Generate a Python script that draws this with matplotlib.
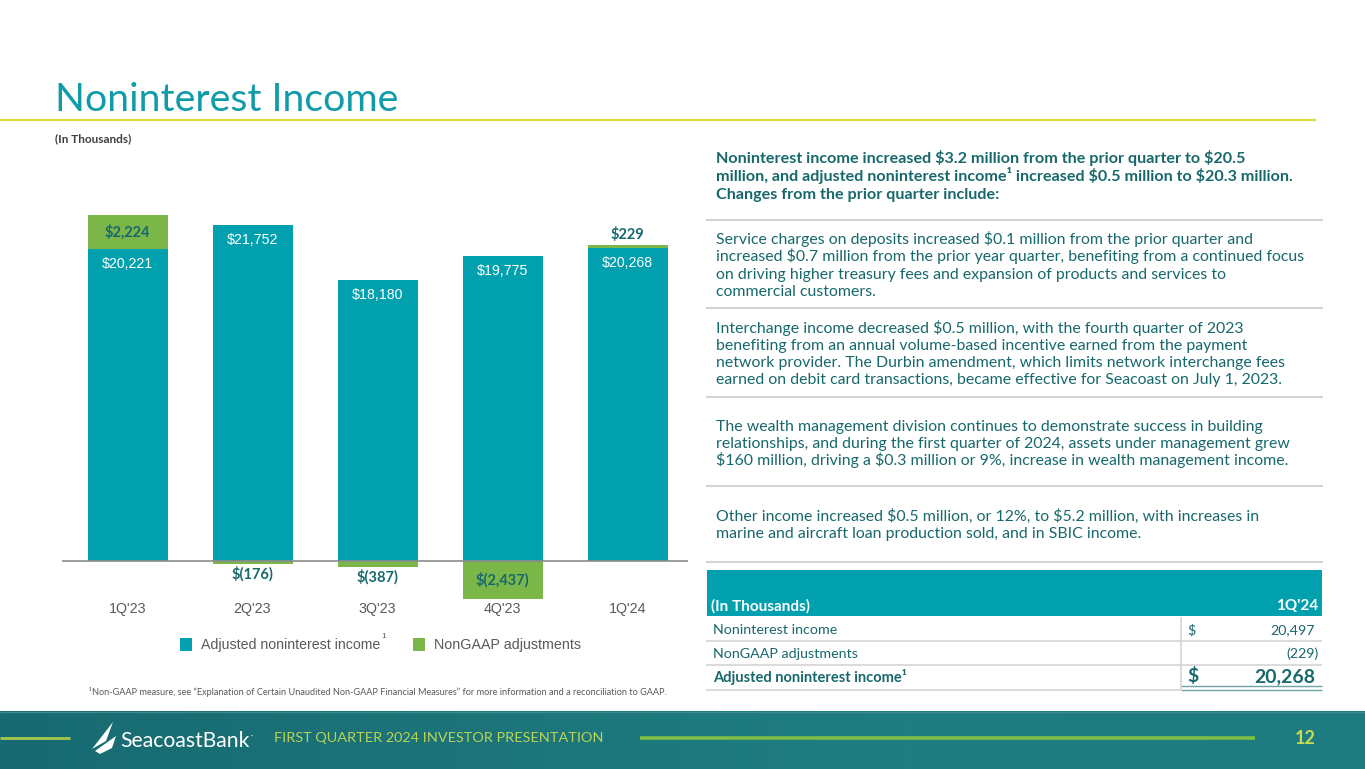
import matplotlib
matplotlib.use('Agg')
import matplotlib.pyplot as plt
import matplotlib.transforms as mtransforms
from matplotlib.patches import Rectangle, Polygon
from matplotlib.lines import Line2D
from matplotlib.colors import LinearSegmentedColormap
import numpy as np

plt.rcParams['text.parse_math'] = False

W, H = 1365, 769
DPI = 100

# ---------------- data ----------------
quarters = ["1Q'23", "2Q'23", "3Q'23", "4Q'23", "1Q'24"]
adjusted_income = [20221, 21752, 18180, 19775, 20268]
nongaap_adjustments = [2224, -176, -387, -2437, 229]

table_labels = ["Noninterest income", "NonGAAP adjustments", "Adjusted noninterest income¹"]
table_dollar = ["$", "", "$"]
table_values = ["20,497", "(229)", "20,268"]

heading_lines = [
    "Noninterest income increased $3.2 million from the prior quarter to $20.5",
    "million, and adjusted noninterest income¹ increased $0.5 million to $20.3 million.",
    "Changes from the prior quarter include:",
]
body_blocks = [
    ["Service charges on deposits increased $0.1 million from the prior quarter and",
     "increased $0.7 million from the prior year quarter, benefiting from a continued focus",
     "on driving higher treasury fees and expansion of products and services to",
     "commercial customers."],
    ["Interchange income decreased $0.5 million, with the fourth quarter of 2023",
     "benefiting from an annual volume-based incentive earned from the payment",
     "network provider. The Durbin amendment, which limits network interchange fees",
     "earned on debit card transactions, became effective for Seacoast on July 1, 2023."],
    ["The wealth management division continues to demonstrate success in building",
     "relationships, and during the first quarter of 2024, assets under management grew",
     "$160 million, driving a $0.3 million or 9%, increase in wealth management income."],
    ["Other income increased $0.5 million, or 12%, to $5.2 million, with increases in",
     "marine and aircraft loan production sold, and in SBIC income."],
]

# ---------------- style ----------------
TEAL = '#00A0AF'
GREEN = '#7AB648'
TITLE = '#0F9BA8'
DARK = '#17686C'
GRAY = '#595959'
SEP = '#D4D4D4'
BODYFONT = ['Lato', 'DejaVu Sans']
ARIAL = ['Liberation Sans', 'DejaVu Sans']

fig = plt.figure(figsize=(W / DPI, H / DPI), dpi=DPI)
fig.patch.set_facecolor('white')
renderer = fig.canvas.get_renderer()


def fx(x):
    return x / W


def fy(y):
    return 1 - y / H


def txt(x, y, s, **kw):
    kw.setdefault('family', BODYFONT)
    return fig.text(fx(x), fy(y), s, **kw)


def fit(t, width):
    fs = t.get_fontsize()
    w = t.get_window_extent(renderer).width
    t.set_fontsize(fs * width / w)
    return t.get_fontsize()


def fit_size(s, width, **kw):
    t = txt(0, 0, s, fontsize=10, **kw)
    fs = fit(t, width)
    t.remove()
    return fs


def hline(x0, x1, y, color, lw):
    fig.add_artist(Line2D([fx(x0), fx(x1)], [fy(y), fy(y)], color=color, lw=lw,
                          transform=fig.transFigure, solid_capstyle='butt'))


def vline(x, y0, y1, color, lw):
    fig.add_artist(Line2D([fx(x), fx(x)], [fy(y0), fy(y1)], color=color, lw=lw,
                          transform=fig.transFigure, solid_capstyle='butt'))


def rect(x0, y0, x1, y1, color, z=1):
    fig.add_artist(Rectangle((fx(x0), fy(y1)), fx(x1) - fx(x0), fy(y0) - fy(y1),
                             transform=fig.transFigure, facecolor=color,
                             edgecolor='none', zorder=z))


# ---------------- title ----------------
t = txt(55, 111, "Noninterest Income", fontsize=30, color=TITLE, va='baseline')
fit(t, 343)
hline(0, 1316, 120, '#D7DF3A', 1.6)
t = txt(55, 142, "(In Thousands)", fontsize=8, color='#3F3F3F', weight='bold', va='baseline')
fit(t, 77)

# ---------------- chart ----------------
base_px, top_px, bot_px = 561.0, 200.0, 600.0
scale = (561 - 249.0) / adjusted_income[0]
ax = fig.add_axes([fx(62), fy(bot_px), fx(688) - fx(62), fy(top_px) - fy(bot_px)])
ax.set_xlim(-0.524, 4.484)
ax.set_ylim(-(bot_px - base_px) / scale, (base_px - top_px) / scale)
ax.axis('off')

x = np.arange(len(quarters))
bw = 0.64
ax.bar(x, adjusted_income, width=bw, color=TEAL, zorder=2)
adj_bottom = [a if g > 0 else 0 for a, g in zip(adjusted_income, nongaap_adjustments)]
ax.bar(x, nongaap_adjustments, bottom=adj_bottom, width=bw, color=GREEN, zorder=2)
ax.axhline(0, color='#8C8C8C', lw=1.2, zorder=3)

for i, (a, g) in enumerate(zip(adjusted_income, nongaap_adjustments)):
    ax.annotate(f"${a:,}", (i, a), xytext=(0, -15), textcoords='offset pixels',
                ha='center', va='center', color='white', fontsize=10.2, family=ARIAL, zorder=4)
    lab = f"${g:,}" if g > 0 else f"$({-g:,})"
    if abs(g) > 1000:
        yc = adj_bottom[i] + g / 2
        off = 0
    elif g > 0:
        yc = a + g
        off = 10
    else:
        yc = g
        off = -10
    ax.annotate(lab, (i, yc), xytext=(0, off), textcoords='offset pixels',
                ha='center', va='center', color=DARK, fontsize=10.5, weight='bold',
                family=BODYFONT, zorder=4)

blend = mtransforms.blended_transform_factory(ax.transData, fig.transFigure)
for i, q in enumerate(quarters):
    ax.text(i, fy(608.5), q, transform=blend, ha='center', va='center', color=GRAY,
            fontsize=10.3, family=ARIAL, clip_on=False)

# legend
rect(180, 638, 192, 651, TEAL)
t = txt(201, 645, "Adjusted noninterest income", fontsize=10.3, color=GRAY, va='center', family=ARIAL)
fit(t, 179)
txt(381, 636, "1", fontsize=6, color=GRAY, va='center', family=ARIAL)
rect(413, 638, 425, 651, GREEN)
t = txt(434, 645, "NonGAAP adjustments", fontsize=10.3, color=GRAY, va='center', family=ARIAL)
fit(t, 146)

t = txt(89, 692, "¹Non-GAAP measure, see \u201cExplanation of Certain Unaudited Non-GAAP Financial Measures\u201d for more information and a reconciliation to GAAP.",
        fontsize=6, color=GRAY, va='center')
fit(t, 581)

# ---------------- right text ----------------
fs_b = fit_size(heading_lines[1], 577, weight='bold')
for s, yb in zip(heading_lines, [163, 181, 198.5]):
    txt(716, yb, s, fontsize=fs_b, weight='bold', color=DARK, va='baseline')

fs_r = fit_size(body_blocks[0][1], 588)
block_baselines = [[244, 261.3, 278.5, 296], [332.7, 350, 367, 384.3],
                   [430.7, 447.7, 464.5], [521.3, 538]]
for blk, ys in zip(body_blocks, block_baselines):
    for s, yb in zip(blk, ys):
        txt(716, yb, s, fontsize=fs_r, color=DARK, va='baseline')

for ysep in [220, 308, 397, 486, 561.5]:
    hline(706, 1323, ysep, SEP, 1.5)

# ---------------- table ----------------
rect(707, 570, 1322, 616, TEAL)
t = txt(711, 610.5, "(In Thousands)", fontsize=9, weight='bold', color='white', va='baseline')
fit(t, 99)
txt(1318, 610.5, "1Q'24", fontsize=t.get_fontsize(), weight='bold', color='white',
    va='baseline', ha='right')
fs_row = fit_size(table_labels[0], 125)
row_base = [634, 658.3, 682.3]
for lab, d, v, yb in zip(table_labels, table_dollar, table_values, row_base):
    bold = lab.startswith("Adjusted")
    w = 'bold' if bold else 'normal'
    t = txt(713, yb, lab, fontsize=fs_row, weight=w, color=DARK, va='baseline')
    if bold:
        fit(t, 193)
    vfs = fs_row * 1.35 if bold else fs_row
    if d:
        txt(1187, yb, d, fontsize=vfs, weight=w, color=DARK, va='baseline')
    txt(1315 if not v.startswith('(') else 1319, yb, v, fontsize=vfs, weight=w,
        color=DARK, va='baseline', ha='right')
hline(706, 1322, 641, SEP, 1.2)
hline(706, 1322, 665.3, SEP, 1.2)
hline(706, 1181, 689.5, SEP, 1.2)
hline(1181, 1322, 686.3, '#6FA3A8', 1.0)
hline(1181, 1322, 689.6, '#6FA3A8', 1.0)
vline(1181, 617, 690, SEP, 1.2)

# ---------------- footer ----------------
fax = fig.add_axes([0, 0, 1, (H - 711) / H])
grad = np.linspace(0, 1, 256)[None, :]
cmap = LinearSegmentedColormap.from_list('foot', ['#176A71', '#1C7479', '#1F7E82', '#1E7B80'])
fax.imshow(grad, aspect='auto', cmap=cmap, extent=[0, 1, 0, 1])
fax.axis('off')
hline(0, W, 711.5, '#3B8A90', 1.0)
hline(0, 70, 738, '#A6C84A', 2.0)
hline(640, 1255, 738, '#7DBE45', 2.6)

# logo icon (sail)
sail1 = [(92, 749), (113, 722), (106, 741)]
sail2 = [(95, 751), (116, 736), (112, 748), (100, 754)]
for pts in (sail1, sail2):
    fig.add_artist(Polygon([(fx(a), fy(b)) for a, b in pts], closed=True,
                           transform=fig.transFigure, facecolor='white',
                           edgecolor='none', zorder=5))
t = txt(120, 741, "SeacoastBank", fontsize=14, color='white', va='center', zorder=5)
fit(t, 130)
txt(251, 736, "·", fontsize=6, color='white', va='center', zorder=5)
t = txt(274, 738, "FIRST QUARTER 2024 INVESTOR PRESENTATION", fontsize=10,
        color='#B9D456', va='center', zorder=5)
fit(t, 326)
t = txt(1316, 738, "12", fontsize=13, color='#C9DC4C', weight='bold', va='center',
        ha='right', zorder=5)

fig.savefig('out.png', dpi=DPI, facecolor='white')
